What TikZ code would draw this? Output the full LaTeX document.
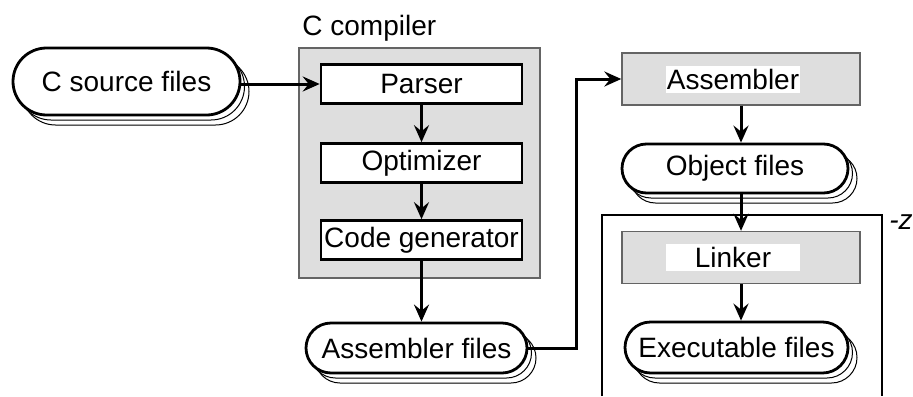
\documentclass[tikz,border=0pt]{standalone}
\usepackage{fontspec}
\setmainfont{Liberation Sans}
\usepackage{tikz}
\usetikzlibrary{arrows.meta,shapes.misc,shadows}
\definecolor{boxgray}{RGB}{222,222,222}
\definecolor{edgegray}{RGB}{100,100,100}

\begin{document}
\begin{tikzpicture}[x=0.5pt, y=-0.5pt, >={Stealth[length=8.5pt,width=7.5pt,inset=3pt]},
    every node/.style={font=\fontsize{14}{16}\selectfont, inner sep=0pt},
    files/.style={rounded rectangle, draw, line width=1.4pt, fill=white,
        copy shadow={shadow xshift=4.5pt, shadow yshift=-5pt, draw=black, fill=white, line width=0.5pt},
        copy shadow={shadow xshift=2.25pt, shadow yshift=-2.5pt, draw=black, fill=white, line width=0.5pt}},
    pass/.style={draw, line width=1.3pt, fill=white, minimum width=100.5pt, minimum height=19.5pt},
    tool/.style={draw=edgegray, line width=0.7pt, fill=boxgray, minimum width=119pt, minimum height=26pt},
    toolname/.style={fill=white, minimum width=67pt, minimum height=13.5pt},
    flow/.style={->, line width=1.5pt}]
    \useasboundingbox (0,0) rectangle (913,396);
    % compiler
    \node[files, minimum width=113.5pt, minimum height=33.5pt] (src) at (126.5,81.5) {C source files};
    \node[draw=edgegray, line width=0.7pt, fill=boxgray, minimum width=120.5pt, minimum height=115pt] (compiler) at (419.5,163) {};
    \node[anchor=base west] (cclabel) at (302,35) {C compiler};
    \node[pass] (parser) at (421.5,84) {Parser};
    \node[pass] (optimizer) at (421.5,163) {Optimizer};
    \node[pass] (codegen) at (421.5,240) {Code generator};
    \node[files, minimum width=110.5pt, minimum height=25pt] (asmfiles) at (416.5,348) {Assembler files};
    % assembler and linker
    \node[tool] (assembler) at (741,79) {};
    \node[toolname] (asmname) at (733,79.5) {Assembler};
    \node[files, minimum width=113pt, minimum height=24.5pt] (objfiles) at (735,168.5) {Object files};
    \draw[line width=0.7pt] (602,396) -- (602,215) -- (882,215) -- (882,396);
    \node[anchor=west, font=\fontsize{14}{16}\selectfont\itshape] (zflag) at (889,222) {-z};
    \node[tool] (linker) at (741,257.5) {};
    \node[toolname] (lnkname) at (733,257) {Linker};
    \node[files, minimum width=111.5pt, minimum height=25.5pt] (exefiles) at (736.5,347.5) {Executable files};
    % connectors
    \draw[flow] (parser.west -| src.east) -- (parser.west);
    \draw[flow] (parser) -- (optimizer);
    \draw[flow] (optimizer) -- (codegen);
    \draw[flow] (codegen.south) -- (codegen.south |- asmfiles.north);
    \draw[flow] (asmfiles.east) -- ++(48,0) |- (assembler.west);
    \draw[flow] (assembler.south) -- (assembler.south |- objfiles.north);
    \draw[flow] (assembler.south |- objfiles.south) -- (linker.north);
    \draw[flow] (linker.south) -- (linker.south |- exefiles.north);
\end{tikzpicture}
\end{document}
